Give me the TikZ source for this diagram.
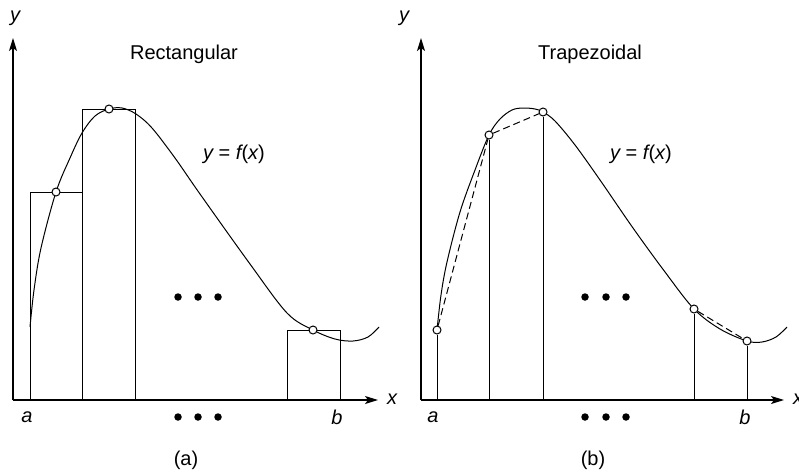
\documentclass[tikz,border=0pt]{standalone}
\usepackage{fontspec}
\setmainfont{Liberation Sans}
\usetikzlibrary{arrows.meta}
\begin{document}
\begin{tikzpicture}[x=1pt,y=-1pt,
  axis/.style={line width=1.4pt,-{Stealth[length=13pt,width=8pt,inset=3pt]}},
  thinline/.style={line width=1pt},
  curve/.style={line width=1pt},
  dashline/.style={line width=1pt,dash pattern=on 7pt off 4pt},
  pt/.style={circle,draw,fill=white,inner sep=0pt,minimum size=8pt,line width=1pt},
  lbl/.style={font=\fontsize{20}{24}\selectfont,inner sep=0pt},
  ilbl/.style={font=\fontsize{20}{24}\selectfont\itshape,inner sep=0pt},
  bigdot/.style={circle,fill=black,inner sep=0pt,minimum size=7.5pt}]
\useasboundingbox (0,0) rectangle (799,471);

% ---------------- Panel (a) ----------------
\coordinate (Oa) at (13,400);
\coordinate (Ya) at (13,38);
\coordinate (Xa) at (378,400);
\draw[axis] (Oa) -- (Ya);
\draw[axis] (Oa) -- (Xa);
\node[ilbl] (ya) at (15,18) {y};
\node[ilbl] (xa) at (392,399) {x};
\node[ilbl] (aa) at (27,417) {a};
\node[ilbl] (ba) at (337,417) {b};
\node[lbl] (ta) at (184,54) {Rectangular};
\node[lbl] (fa) at (234,154) {\itshape y\upshape\ = \itshape f\upshape(\itshape x\upshape)};
\node[lbl] (capa) at (186,460) {(a)};

\draw[thinline] (30,400) rectangle (82,192);
\draw[thinline] (82,400) rectangle (135,109);
\draw[thinline] (287,400) rectangle (340,330);

\draw[curve] plot[smooth,tension=0.55] coordinates {(30,327) (34,290) (41,248) (56,192) (70,158) (82,133) (95,116) (109,109) (122,108) (136,114) (152,128) (175,158) (200,194) (250,264) (287,313) (313,330) (335,339) (353,341) (368,337) (379,327)};

\node[pt] (pa1) at (56,192) {};
\node[pt] (pa2) at (109,109) {};
\node[pt] (pa3) at (313,330) {};

\node[bigdot] (da1) at (178,297) {};
\node[bigdot] (da2) at (198,297) {};
\node[bigdot] (da3) at (218,297) {};
\node[bigdot] (db1) at (178,417) {};
\node[bigdot] (db2) at (198,417) {};
\node[bigdot] (db3) at (218,417) {};

% ---------------- Panel (b) ----------------
\coordinate (Ob) at (421,400);
\coordinate (Yb) at (421,38);
\coordinate (Xb) at (784,400);
\draw[axis] (Ob) -- (Yb);
\draw[axis] (Ob) -- (Xb);
\node[ilbl] (yb) at (404,18) {y};
\node[ilbl] (xb) at (798,399) {x};
\node[ilbl] (ab) at (433,417) {a};
\node[ilbl] (bb) at (745,417) {b};
\node[lbl] (tb) at (590,54) {Trapezoidal};
\node[lbl] (fb) at (641,154) {\itshape y\upshape\ = \itshape f\upshape(\itshape x\upshape)};
\node[lbl] (capb) at (593,460) {(b)};

\draw[curve] plot[smooth,tension=0.55] coordinates {(437,330) (441,295) (447,262) (460,212) (475,170) (489,135) (500,119) (512,110) (523,108) (535,109) (543,112) (555,121) (575,145) (600,180) (633,228) (665,272) (694,309) (720,329) (747,341) (762,342) (776,337) (787,327)};

\node[pt] (pb1) at (437,330) {};
\node[pt] (pb2) at (489,135) {};
\node[pt] (pb3) at (543,112) {};
\node[pt] (pb4) at (694,309) {};
\node[pt] (pb5) at (747,341) {};

\coordinate (qb1) at (437,400);
\coordinate (qb2) at (489,400);
\coordinate (qb3) at (543,400);
\coordinate (qb4) at (694,400);
\coordinate (qb5) at (747,400);
\draw[thinline] (pb1) -- (qb1);
\draw[thinline] (pb2) -- (qb2);
\draw[thinline] (pb3) -- (qb3);
\draw[thinline] (pb4) -- (qb4);
\draw[thinline] (pb5) -- (qb5);

\draw[dashline] (pb1) -- (pb2) -- (pb3);
\draw[dashline] (pb4) -- (pb5);

\node[bigdot] (dc1) at (585,297) {};
\node[bigdot] (dc2) at (606,297) {};
\node[bigdot] (dc3) at (626,297) {};
\node[bigdot] (dd1) at (585,417) {};
\node[bigdot] (dd2) at (606,417) {};
\node[bigdot] (dd3) at (626,417) {};
\end{tikzpicture}
\end{document}
